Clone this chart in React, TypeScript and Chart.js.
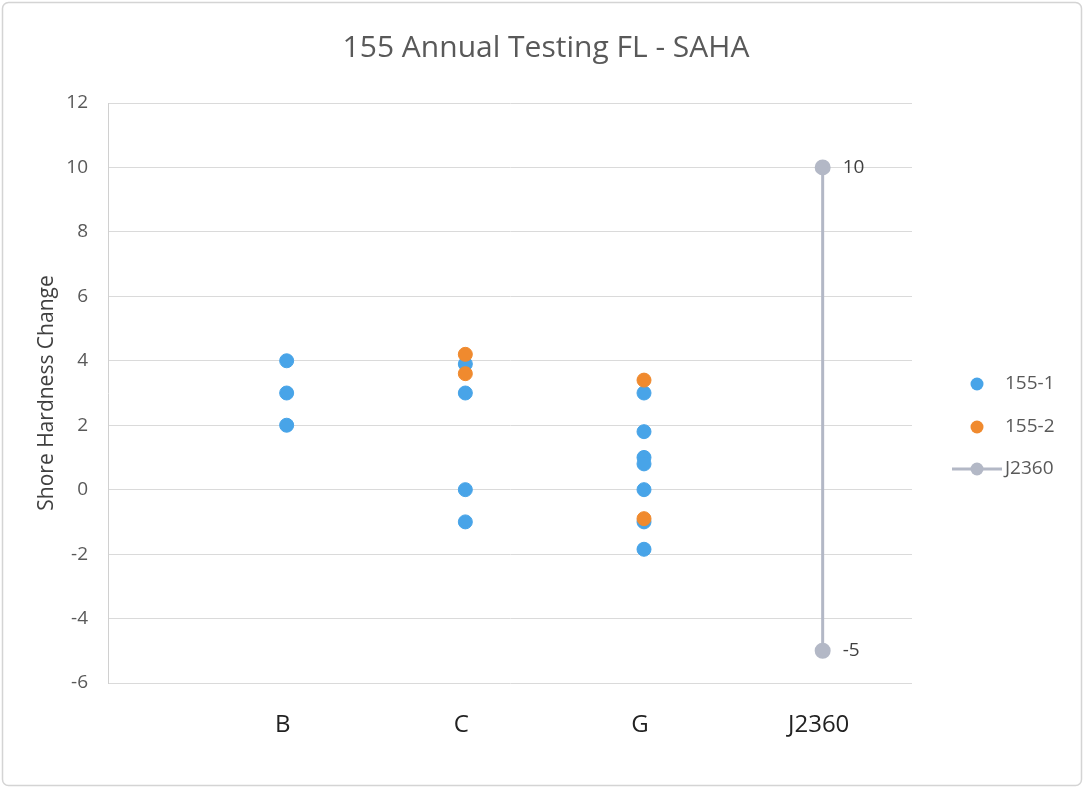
import React, { useEffect, useRef } from "react";
import { Chart, registerables } from "chart.js";

Chart.register(...registerables);

const categories = ["B", "C", "G", "J2360"];

const s1Cats = ["B", "B", "B", "C", "C", "C", "C", "G", "G", "G", "G", "G", "G", "G"];
const s1Vals = [4, 3, 2, 3.9, 3, 0, -1, 3, 1.8, 1.0, 0.8, 0, -1, -1.85];

const s2Cats = ["C", "C", "G", "G"];
const s2Vals = [4.2, 3.6, 3.4, -0.9];

const refCats = ["J2360", "J2360"];
const refVals = [10, -5];

const yTicks = [-6, -4, -2, 0, 2, 4, 6, 8, 10, 12];

const seriesNames = ["155-1", "155-2", "J2360"];
const titleText = "155 Annual Testing FL - SAHA";
const yTitle = "Shore Hardness Change";

const BLUE = "#48a4e8";
const ORANGE = "#f08a2e";
const GREY = "#b3b8c6";
const FONT = "'Open Sans', sans-serif";

const toPts = (cats: string[], vals: number[]) =>
  vals.map((v, i) => ({ x: categories.indexOf(cats[i]) + 1, y: v }));

export default function App() {
  const ref = useRef<HTMLCanvasElement | null>(null);

  useEffect(() => {
    const canvas = ref.current!;
    const framePlugin = {
      id: "frame",
      beforeDraw(chart: any) {
        const ctx = chart.ctx;
        ctx.save();
        ctx.fillStyle = "#ffffff";
        ctx.fillRect(0, 0, chart.width, chart.height);
        ctx.strokeStyle = "#d4d4d4";
        ctx.lineWidth = 1.5;
        ctx.beginPath();
        (ctx as any).roundRect(2.5, 2.5, chart.width - 5, chart.height - 5, 6);
        ctx.stroke();
        ctx.restore();
      },
      afterDraw(chart: any) {
        const ctx = chart.ctx;
        ctx.save();
        // title
        ctx.fillStyle = "#595959";
        ctx.font = `30px ${FONT}`;
        ctx.textAlign = "center";
        ctx.textBaseline = "alphabetic";
        ctx.fillText(titleText, 546, 57);
        // data labels for J2360
        const meta = chart.getDatasetMeta(2);
        ctx.fillStyle = "#404040";
        ctx.font = `19px ${FONT}`;
        ctx.textAlign = "left";
        ctx.textBaseline = "middle";
        meta.data.forEach((pt: any, i: number) => {
          ctx.fillText(String(refVals[i]), pt.x + 20, pt.y);
        });
        // legend
        const items = [
          { y: 384, color: BLUE, line: false },
          { y: 427, color: ORANGE, line: false },
          { y: 469, color: GREY, line: true },
        ];
        ctx.font = `19px ${FONT}`;
        items.forEach((it, i) => {
          if (it.line) {
            ctx.strokeStyle = it.color;
            ctx.lineWidth = 3;
            ctx.beginPath();
            ctx.moveTo(952, it.y);
            ctx.lineTo(1002, it.y);
            ctx.stroke();
          }
          ctx.beginPath();
          ctx.fillStyle = it.color;
          ctx.arc(977, it.y, 6.5, 0, Math.PI * 2);
          ctx.fill();
          ctx.fillStyle = "#595959";
          ctx.fillText(seriesNames[i], 1005, it.y);
        });
        ctx.restore();
      },
    };

    const chart = new Chart(canvas, {
      type: "scatter",
      data: {
        datasets: [
          {
            label: seriesNames[0],
            data: toPts(s1Cats, s1Vals),
            backgroundColor: BLUE,
            borderColor: BLUE,
            pointRadius: 7,
            order: 2,
          },
          {
            label: seriesNames[1],
            data: toPts(s2Cats, s2Vals),
            backgroundColor: ORANGE,
            borderColor: ORANGE,
            pointRadius: 7,
            order: 1,
          },
          {
            label: seriesNames[2],
            data: toPts(refCats, refVals),
            backgroundColor: GREY,
            borderColor: GREY,
            pointRadius: 6.5,
            showLine: true,
            borderWidth: 3,
            order: 3,
          },
        ],
      },
      options: {
        animation: false,
        responsive: false,
        layout: { padding: { left: 0, right: 172, top: 103, bottom: 0 } },
        plugins: {
          legend: { display: false },
          tooltip: { enabled: false },
          title: { display: false },
        },
        scales: {
          x: {
            type: "linear",
            min: 0,
            max: 4.5,
            afterBuildTicks: (scale: any) => {
              scale.ticks = categories.map((_, i) => ({ value: i + 1 }));
            },
            afterFit: (scale: any) => {
              scale.height = 105;
            },
            grid: { display: false, drawTicks: false },
            border: { display: false },
            ticks: {
              padding: 28,
              labelOffset: -4,
              color: "#222222",
              font: { family: FONT, size: 24 },
              callback: (v: any) => categories[Number(v) - 1] ?? "",
              maxRotation: 0,
              autoSkip: false,
            },
          },
          y: {
            min: -6,
            max: 12,
            afterBuildTicks: (scale: any) => {
              scale.ticks = yTicks.map((v) => ({ value: v }));
            },
            afterFit: (scale: any) => {
              scale.width = 108;
            },
            grid: { color: "#dadada", drawTicks: false, lineWidth: 1 },
            border: { display: true, color: "#d0d0d0" },
            ticks: {
              padding: 20,
              color: "#595959",
              font: { family: FONT, size: 19 },
            },
            title: {
              display: true,
              text: yTitle,
              color: "#404040",
              font: { family: FONT, size: 21 },
              padding: { top: 34, bottom: 0 },
            },
          },
        },
      },
      plugins: [framePlugin],
    } as any);
    return () => chart.destroy();
  }, []);

  return (
    <div style={{ position: "absolute", left: 0, top: 0, width: 1084, height: 788 }}>
      <canvas ref={ref} width={1084} height={788} />
    </div>
  );
}
